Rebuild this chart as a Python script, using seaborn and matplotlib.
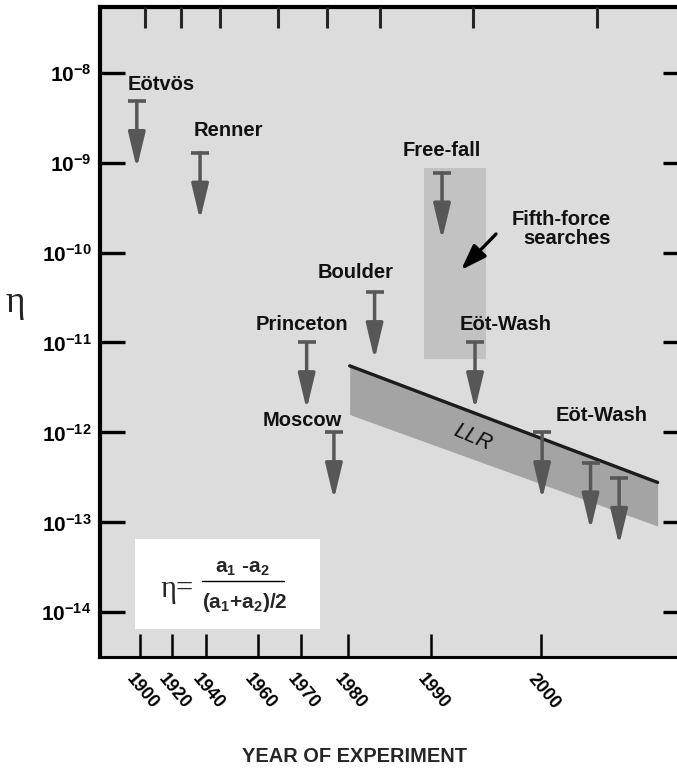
import numpy as np
import matplotlib
matplotlib.use("Agg")
import matplotlib.pyplot as plt
import seaborn as sns
from matplotlib.ticker import FixedLocator, FixedFormatter, NullLocator
from matplotlib.patches import Rectangle
from matplotlib.lines import Line2D
from matplotlib.transforms import ScaledTranslation

# ---------------- data ----------------
experiments = ["Eötvös", "Renner", "Princeton", "Moscow", "Boulder",
               "Free-fall", "Eöt-Wash", "Eöt-Wash", "Eöt-Wash", "Eöt-Wash"]
exp_years = [1898.0, 1936.5, 1971.2, 1977.0, 1983.2, 1991.0, 1994.0, 2000.1, 2004.5, 2007.1]
eta_limits = [4.8e-9, 1.28e-9, 1.0e-11, 1.0e-12, 3.6e-11, 7.7e-10, 1.0e-11, 1.0e-12, 4.6e-13, 3.1e-13]

llr_years = [1980.2, 2010.6]
llr_upper = [5.5e-12, 2.78e-13]
llr_lower = [1.58e-12, 9.1e-14]

fifth_force_years = [1989.2, 1995.0]
fifth_force_eta = [6.6e-12, 8.7e-10]

year_ticks = [1900, 1920, 1940, 1960, 1970, 1980, 1990, 2000]
year_labels = ["1900", "1920", "1940", "1960", "1970", "1980", "1990", "2000"]
eta_ticks = [1e-8, 1e-9, 1e-10, 1e-11, 1e-12, 1e-13, 1e-14]
eta_labels = [r"$10^{-8}$", r"$10^{-9}$", r"$10^{-10}$", r"$10^{-11}$",
              r"$10^{-12}$", r"$10^{-13}$", r"$10^{-14}$"]

# ---------------- style ----------------
sns.set_theme(style="ticks")
plt.rcParams["font.family"] = ["Liberation Sans", "DejaVu Sans"]
plt.rcParams["font.weight"] = "bold"
plt.rcParams["mathtext.fontset"] = "custom"
plt.rcParams["mathtext.rm"] = "Liberation Sans:bold"
plt.rcParams["mathtext.bf"] = "Liberation Sans:bold"
plt.rcParams["mathtext.it"] = "Liberation Sans:bold:italic"
plt.rcParams["mathtext.default"] = "rm"

BG = "#dcdcdc"
ARROW = "#575757"

# non-uniform year axis (piecewise linear warp, as in the original figure)
warp_years = [1875, 1900, 1920, 1940, 1960, 1970, 1980, 1990, 2000, 2020]
warp_pos = [100, 140, 172, 206, 258, 301, 348, 431, 541, 761]


def fwd(x):
    return np.interp(x, warp_years, warp_pos)


def inv(p):
    return np.interp(p, warp_pos, warp_years)


fig = plt.figure(figsize=(6.77, 7.69), dpi=100)
fig.patch.set_facecolor("white")
W, H = 677, 769
ax = fig.add_axes([100 / W, 1 - 657 / H, 588 / W, 650 / H])
ax.set_facecolor(BG)
ax.set_xscale("function", functions=(fwd, inv))
ax.set_yscale("log")
ax.set_xlim(1875, 2013.36)
ax.set_ylim(10 ** -14.497, 10 ** -7.27)


def afr(px, py):
    return ((px - 100) / 588, (657 - py) / 650)


# fifth-force shaded region
ax.fill_between(fifth_force_years, fifth_force_eta[0], fifth_force_eta[1],
                color="#c2c2c2", lw=0, zorder=1)

# LLR band
ax.fill_between(llr_years, llr_lower, llr_upper, color="#a4a4a4", lw=0, zorder=2)
sns.lineplot(x=llr_years, y=llr_upper, color="#1c1c1c", lw=2.4, ax=ax, zorder=3)

# upper-limit arrows
for yr, lim in zip(exp_years, eta_limits):
    ax.annotate("", xy=(yr, lim * 10 ** -0.745), xytext=(yr, lim),
                arrowprops=dict(arrowstyle="-|>,head_length=1.55,head_width=0.37",
                                mutation_scale=14, lw=2.5, color=ARROW,
                                shrinkA=0, shrinkB=0), zorder=4)
sns.scatterplot(x=exp_years, y=eta_limits, marker="_", s=150, linewidth=2.6,
                color=ARROW, ax=ax, zorder=5)

# labels
LFS = 14.5
lab_kw = dict(transform=ax.transAxes, fontsize=LFS, fontweight="bold",
              ha="center", va="center", color="#111111", zorder=6)
labels_pos = {
    "Eötvös": (160.8, 84), "Renner": (228.3, 131), "Free-fall": (441.7, 150),
    "Boulder": (355.8, 273), "Princeton": (302, 324), "Moscow": (302.5, 420),
}
for name, (px, py) in labels_pos.items():
    ax.text(*afr(px, py), name, **lab_kw)
ax.text(*afr(505.8, 325), "Eöt-Wash", **lab_kw)
ax.text(*afr(602, 415), "Eöt-Wash", **lab_kw)
ax.text(*afr(611, 229), "Fifth-force\nsearches", transform=ax.transAxes,
        fontsize=LFS, fontweight="bold", ha="right", va="center",
        multialignment="right", linespacing=1.0, color="#111111", zorder=6)
ax.text(*afr(473, 438), "LLR", transform=ax.transAxes, fontsize=15.5,
        fontstyle="italic", fontweight="normal", rotation=-23,
        ha="center", va="center", color="#111111", zorder=6)

# fifth-force pointer
ax.annotate("", xy=afr(461, 270), xytext=afr(496, 234),
            xycoords="axes fraction", textcoords="axes fraction",
            arrowprops=dict(arrowstyle="-|>,head_length=1.3,head_width=0.45",
                            mutation_scale=12, lw=2.4, color="black",
                            shrinkA=0, shrinkB=0), zorder=6)

# formula box
x0, y0 = afr(135, 629)
x1, y1 = afr(320, 539)
ax.add_patch(Rectangle((x0, y0), x1 - x0, y1 - y0, transform=ax.transAxes,
                       facecolor="white", edgecolor="none", zorder=6))
ax.text(*afr(177, 590), "η=", transform=ax.transAxes, fontsize=22,
        family=["Liberation Serif", "DejaVu Serif"], fontweight="normal",
        ha="center", va="center", zorder=7)
ax.text(*afr(242.5, 568), r"$a_1$ -$a_2$", transform=ax.transAxes, fontsize=15,
        ha="center", va="center", zorder=7)
ax.text(*afr(245, 603), r"$(a_1$+$a_2)/2$", transform=ax.transAxes, fontsize=15,
        ha="center", va="center", zorder=7)
fx0, fy = afr(202, 581)
fx1, _ = afr(284, 581)
ax.add_line(Line2D([fx0, fx1], [fy, fy], transform=ax.transAxes, color="black",
                   lw=1.0, zorder=7))

# axes styling
ax.yaxis.set_major_locator(FixedLocator(eta_ticks))
ax.yaxis.set_major_formatter(FixedFormatter(eta_labels))
ax.yaxis.set_minor_locator(NullLocator())
ax.xaxis.set_major_locator(FixedLocator(year_ticks))
ax.xaxis.set_major_formatter(FixedFormatter(year_labels))
ax.xaxis.set_minor_locator(NullLocator())
ax.tick_params(axis="y", which="major", direction="in", length=18, width=2.4,
               left=True, right=True, pad=6, labelsize=15, colors="black")
ax.tick_params(axis="x", which="major", direction="in", length=16.5, width=1.8,
               bottom=True, top=False, pad=10, labelsize=13, colors="black")
offset = ScaledTranslation(-4 / 100, 0, fig.dpi_scale_trans)
for lbl in ax.get_xticklabels():
    lbl.set_rotation(-50)
    lbl.set_rotation_mode("anchor")
    lbl.set_ha("left")
    lbl.set_va("top")
    lbl.set_fontweight("bold")
    lbl.set_transform(lbl.get_transform() + offset)

for side, lw in [("top", 3.0), ("left", 3.0), ("bottom", 2.2), ("right", 3.0)]:
    ax.spines[side].set_linewidth(lw)
    ax.spines[side].set_color("black")

# top ticks (slightly differently spaced in the original)
ax2 = ax.twiny()
ax2.set_xscale("function", functions=(fwd, inv))
ax2.set_xlim(1875, 2007.3)
ax2.xaxis.set_major_locator(FixedLocator(year_ticks))
ax2.xaxis.set_minor_locator(NullLocator())
ax2.tick_params(axis="x", which="major", direction="in", length=15, width=2.2,
                top=True, labeltop=False, bottom=False, labelbottom=False)
for s in ax2.spines.values():
    s.set_visible(False)

ax.set_xlabel("")
ax.set_ylabel("")
fig.text(354.5 / W, 1 - 757 / H, "YEAR OF EXPERIMENT", fontsize=14.4,
         fontweight="bold", ha="center", va="center")
fig.text(15 / W, 1 - 303 / H, "η", fontsize=27, fontweight="normal",
         family=["Liberation Serif", "DejaVu Serif"], ha="center", va="center")

fig.savefig("out.png", dpi=100, facecolor="white")
